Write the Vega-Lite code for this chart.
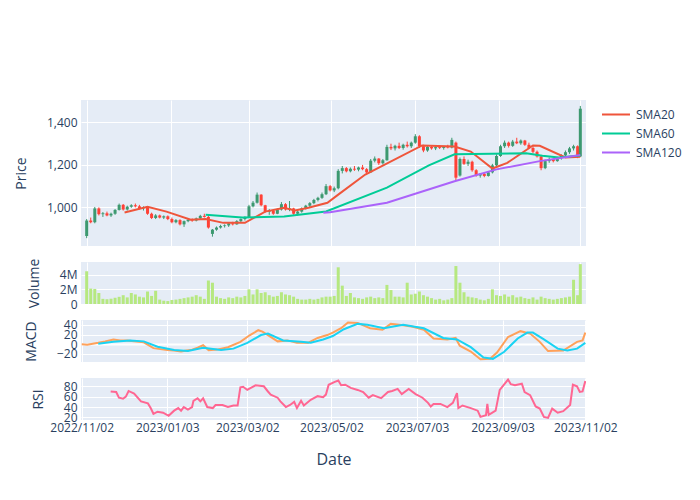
{
  "$schema": "https://vega.github.io/schema/vega-lite/v6.json",
  "background": "white",
  "padding": {"left": 14, "top": 100, "right": 5, "bottom": 5},
  "spacing": 16,
  "bounds": "flush",
  "resolve": {"scale": {"color": "independent"}, "legend": {"color": "independent"}},
  "config": {
    "font": "Open Sans",
    "view": {"fill": "#E5ECF6", "stroke": null},
    "axis": {"domain": false, "ticks": false, "gridColor": "white", "gridWidth": 1, "gridOpacity": 1, "labelColor": "#2a3f5f", "labelFont": "Open Sans", "labelFontSize": 12, "labelOverlap": false, "labelFlush": false, "titleColor": "#2a3f5f", "titleFont": "Open Sans", "titleFontSize": 14, "titleFontWeight": "normal", "labelPadding": 4, "titlePadding": 18}
  },
  "datasets": {
    "candles": [
      {"date":"2022-11-02","open":865,"high":945,"low":855,"close":938,"volume":4460000},
      {"date":"2022-11-05","open":938,"high":952,"low":925,"close":930,"volume":2100000},
      {"date":"2022-11-08","open":930,"high":1002,"low":925,"close":995,"volume":2050000},
      {"date":"2022-11-11","open":995,"high":1000,"low":962,"close":968,"volume":1500000},
      {"date":"2022-11-14","open":968,"high":978,"low":955,"close":972,"volume":700000},
      {"date":"2022-11-17","open":972,"high":980,"low":958,"close":962,"volume":650000},
      {"date":"2022-11-20","open":962,"high":975,"low":955,"close":970,"volume":720000},
      {"date":"2022-11-23","open":970,"high":992,"low":965,"close":988,"volume":850000},
      {"date":"2022-11-26","open":988,"high":1018,"low":985,"close":1012,"volume":980000},
      {"date":"2022-11-29","open":1012,"high":1016,"low":985,"close":990,"volume":1200000},
      {"date":"2022-12-02","open":990,"high":1008,"low":985,"close":1003,"volume":900000},
      {"date":"2022-12-05","open":1003,"high":1015,"low":998,"close":1010,"volume":1500000},
      {"date":"2022-12-08","open":1010,"high":1018,"low":1000,"close":1005,"volume":1300000},
      {"date":"2022-12-11","open":1005,"high":1012,"low":990,"close":996,"volume":1000000},
      {"date":"2022-12-14","open":996,"high":1005,"low":985,"close":1000,"volume":900000},
      {"date":"2022-12-17","open":1000,"high":1003,"low":965,"close":970,"volume":1700000},
      {"date":"2022-12-20","open":970,"high":975,"low":945,"close":950,"volume":1100000},
      {"date":"2022-12-23","open":950,"high":968,"low":945,"close":962,"volume":1800000},
      {"date":"2022-12-26","open":962,"high":966,"low":948,"close":952,"volume":600000},
      {"date":"2022-12-29","open":952,"high":962,"low":945,"close":958,"volume":450000},
      {"date":"2023-01-01","open":958,"high":962,"low":940,"close":945,"volume":400000},
      {"date":"2023-01-04","open":945,"high":952,"low":925,"close":930,"volume":550000},
      {"date":"2023-01-07","open":930,"high":945,"low":925,"close":940,"volume":600000},
      {"date":"2023-01-10","open":940,"high":944,"low":915,"close":920,"volume":700000},
      {"date":"2023-01-13","open":920,"high":938,"low":908,"close":935,"volume":800000},
      {"date":"2023-01-16","open":935,"high":945,"low":930,"close":942,"volume":900000},
      {"date":"2023-01-19","open":942,"high":948,"low":932,"close":938,"volume":1000000},
      {"date":"2023-01-22","open":938,"high":952,"low":934,"close":948,"volume":1200000},
      {"date":"2023-01-25","open":948,"high":965,"low":945,"close":960,"volume":1000000},
      {"date":"2023-01-28","open":960,"high":970,"low":952,"close":955,"volume":700000},
      {"date":"2023-01-31","open":955,"high":960,"low":900,"close":905,"volume":3200000},
      {"date":"2023-02-03","open":875,"high":898,"low":862,"close":895,"volume":2900000},
      {"date":"2023-02-06","open":895,"high":910,"low":890,"close":905,"volume":1000000},
      {"date":"2023-02-09","open":905,"high":918,"low":900,"close":912,"volume":800000},
      {"date":"2023-02-12","open":912,"high":920,"low":905,"close":915,"volume":700000},
      {"date":"2023-02-15","open":915,"high":930,"low":908,"close":925,"volume":900000},
      {"date":"2023-02-18","open":925,"high":932,"low":915,"close":920,"volume":800000},
      {"date":"2023-02-21","open":920,"high":940,"low":918,"close":935,"volume":1000000},
      {"date":"2023-02-24","open":935,"high":948,"low":930,"close":945,"volume":900000},
      {"date":"2023-02-27","open":945,"high":958,"low":938,"close":952,"volume":1100000},
      {"date":"2023-03-02","open":952,"high":1012,"low":950,"close":1005,"volume":2000000},
      {"date":"2023-03-05","open":1005,"high":1030,"low":1000,"close":1022,"volume":1300000},
      {"date":"2023-03-08","open":1022,"high":1070,"low":1018,"close":1060,"volume":2000000},
      {"date":"2023-03-11","open":1060,"high":1062,"low":1005,"close":1010,"volume":1500000},
      {"date":"2023-03-14","open":1010,"high":1012,"low":975,"close":980,"volume":1600000},
      {"date":"2023-03-17","open":980,"high":992,"low":965,"close":985,"volume":1200000},
      {"date":"2023-03-20","open":985,"high":990,"low":965,"close":970,"volume":1000000},
      {"date":"2023-03-23","open":970,"high":995,"low":968,"close":990,"volume":1100000},
      {"date":"2023-03-26","open":990,"high":1025,"low":985,"close":1015,"volume":1600000},
      {"date":"2023-03-29","open":1015,"high":1020,"low":985,"close":990,"volume":1300000},
      {"date":"2023-04-01","open":990,"high":1030,"low":982,"close":995,"volume":1200000},
      {"date":"2023-04-04","open":995,"high":998,"low":965,"close":970,"volume":1000000},
      {"date":"2023-04-07","open":970,"high":985,"low":962,"close":980,"volume":700000},
      {"date":"2023-04-10","open":980,"high":1000,"low":975,"close":995,"volume":600000},
      {"date":"2023-04-13","open":995,"high":1012,"low":990,"close":1008,"volume":600000},
      {"date":"2023-04-16","open":1008,"high":1025,"low":1000,"close":1020,"volume":700000},
      {"date":"2023-04-19","open":1020,"high":1040,"low":1015,"close":1035,"volume":600000},
      {"date":"2023-04-22","open":1035,"high":1050,"low":1028,"close":1045,"volume":700000},
      {"date":"2023-04-25","open":1045,"high":1070,"low":1040,"close":1062,"volume":900000},
      {"date":"2023-04-28","open":1062,"high":1110,"low":1058,"close":1100,"volume":1000000},
      {"date":"2023-05-01","open":1100,"high":1105,"low":1075,"close":1080,"volume":1000000},
      {"date":"2023-05-04","open":1080,"high":1098,"low":1072,"close":1090,"volume":1100000},
      {"date":"2023-05-07","open":1090,"high":1180,"low":1085,"close":1172,"volume":5000000},
      {"date":"2023-05-10","open":1172,"high":1195,"low":1160,"close":1185,"volume":2500000},
      {"date":"2023-05-13","open":1185,"high":1190,"low":1165,"close":1170,"volume":1100000},
      {"date":"2023-05-16","open":1170,"high":1188,"low":1165,"close":1182,"volume":1500000},
      {"date":"2023-05-19","open":1182,"high":1195,"low":1172,"close":1178,"volume":900000},
      {"date":"2023-05-22","open":1178,"high":1192,"low":1170,"close":1188,"volume":800000},
      {"date":"2023-05-25","open":1188,"high":1200,"low":1175,"close":1180,"volume":700000},
      {"date":"2023-05-28","open":1180,"high":1185,"low":1158,"close":1165,"volume":900000},
      {"date":"2023-05-31","open":1165,"high":1228,"low":1162,"close":1220,"volume":1000000},
      {"date":"2023-06-03","open":1220,"high":1240,"low":1212,"close":1230,"volume":800000},
      {"date":"2023-06-06","open":1230,"high":1232,"low":1200,"close":1208,"volume":900000},
      {"date":"2023-06-09","open":1208,"high":1228,"low":1202,"close":1222,"volume":800000},
      {"date":"2023-06-12","open":1222,"high":1295,"low":1220,"close":1285,"volume":2600000},
      {"date":"2023-06-15","open":1285,"high":1300,"low":1270,"close":1278,"volume":1900000},
      {"date":"2023-06-18","open":1278,"high":1295,"low":1268,"close":1290,"volume":1000000},
      {"date":"2023-06-21","open":1290,"high":1305,"low":1275,"close":1280,"volume":1000000},
      {"date":"2023-06-24","open":1280,"high":1300,"low":1272,"close":1295,"volume":900000},
      {"date":"2023-06-27","open":1295,"high":1310,"low":1282,"close":1288,"volume":2900000},
      {"date":"2023-06-30","open":1288,"high":1310,"low":1280,"close":1305,"volume":1300000},
      {"date":"2023-07-03","open":1305,"high":1345,"low":1300,"close":1335,"volume":1400000},
      {"date":"2023-07-06","open":1335,"high":1340,"low":1280,"close":1288,"volume":1700000},
      {"date":"2023-07-09","open":1288,"high":1295,"low":1260,"close":1268,"volume":1200000},
      {"date":"2023-07-12","open":1268,"high":1290,"low":1262,"close":1285,"volume":1000000},
      {"date":"2023-07-15","open":1285,"high":1292,"low":1272,"close":1278,"volume":800000},
      {"date":"2023-07-18","open":1278,"high":1290,"low":1270,"close":1284,"volume":600000},
      {"date":"2023-07-21","open":1284,"high":1292,"low":1275,"close":1280,"volume":700000},
      {"date":"2023-07-24","open":1280,"high":1288,"low":1272,"close":1285,"volume":500000},
      {"date":"2023-07-27","open":1285,"high":1295,"low":1278,"close":1282,"volume":600000},
      {"date":"2023-07-30","open":1282,"high":1328,"low":1278,"close":1318,"volume":800000},
      {"date":"2023-08-02","open":1305,"high":1310,"low":1128,"close":1140,"volume":5170000},
      {"date":"2023-08-05","open":1150,"high":1235,"low":1145,"close":1228,"volume":2900000},
      {"date":"2023-08-08","open":1228,"high":1240,"low":1200,"close":1205,"volume":1600000},
      {"date":"2023-08-11","open":1205,"high":1225,"low":1195,"close":1215,"volume":1000000},
      {"date":"2023-08-14","open":1215,"high":1220,"low":1168,"close":1175,"volume":900000},
      {"date":"2023-08-17","open":1175,"high":1180,"low":1145,"close":1150,"volume":800000},
      {"date":"2023-08-20","open":1150,"high":1162,"low":1140,"close":1158,"volume":600000},
      {"date":"2023-08-23","open":1158,"high":1165,"low":1142,"close":1148,"volume":500000},
      {"date":"2023-08-26","open":1148,"high":1170,"low":1145,"close":1165,"volume":700000},
      {"date":"2023-08-29","open":1165,"high":1205,"low":1160,"close":1198,"volume":2000000},
      {"date":"2023-09-01","open":1198,"high":1250,"low":1195,"close":1242,"volume":1200000},
      {"date":"2023-09-04","open":1242,"high":1295,"low":1238,"close":1288,"volume":1100000},
      {"date":"2023-09-07","open":1288,"high":1315,"low":1280,"close":1305,"volume":1300000},
      {"date":"2023-09-10","open":1305,"high":1310,"low":1282,"close":1290,"volume":1000000},
      {"date":"2023-09-13","open":1290,"high":1318,"low":1285,"close":1310,"volume":1200000},
      {"date":"2023-09-16","open":1310,"high":1328,"low":1298,"close":1302,"volume":900000},
      {"date":"2023-09-19","open":1302,"high":1320,"low":1295,"close":1315,"volume":1000000},
      {"date":"2023-09-22","open":1315,"high":1318,"low":1290,"close":1295,"volume":800000},
      {"date":"2023-09-25","open":1295,"high":1305,"low":1275,"close":1280,"volume":700000},
      {"date":"2023-09-28","open":1280,"high":1288,"low":1255,"close":1262,"volume":900000},
      {"date":"2023-10-01","open":1262,"high":1268,"low":1235,"close":1240,"volume":600000},
      {"date":"2023-10-04","open":1240,"high":1242,"low":1175,"close":1185,"volume":1000000},
      {"date":"2023-10-07","open":1185,"high":1225,"low":1180,"close":1218,"volume":800000},
      {"date":"2023-10-10","open":1218,"high":1235,"low":1210,"close":1228,"volume":700000},
      {"date":"2023-10-13","open":1228,"high":1232,"low":1212,"close":1218,"volume":600000},
      {"date":"2023-10-16","open":1218,"high":1238,"low":1215,"close":1232,"volume":700000},
      {"date":"2023-10-19","open":1232,"high":1250,"low":1225,"close":1245,"volume":800000},
      {"date":"2023-10-22","open":1245,"high":1268,"low":1240,"close":1260,"volume":900000},
      {"date":"2023-10-25","open":1260,"high":1285,"low":1252,"close":1278,"volume":1000000},
      {"date":"2023-10-28","open":1278,"high":1295,"low":1268,"close":1288,"volume":3300000},
      {"date":"2023-10-31","open":1288,"high":1292,"low":1232,"close":1240,"volume":1200000},
      {"date":"2023-11-02","open":1240,"high":1478,"low":1238,"close":1465,"volume":5430000}
    ],
    "sma": [
      {"date":"2022-11-30","series":"SMA20","value":976},
      {"date":"2022-12-17","series":"SMA20","value":1003},
      {"date":"2022-12-31","series":"SMA20","value":980},
      {"date":"2023-01-18","series":"SMA20","value":942},
      {"date":"2023-01-29","series":"SMA20","value":945},
      {"date":"2023-02-11","series":"SMA20","value":927},
      {"date":"2023-02-27","series":"SMA20","value":927},
      {"date":"2023-03-14","series":"SMA20","value":980},
      {"date":"2023-03-28","series":"SMA20","value":998},
      {"date":"2023-04-05","series":"SMA20","value":985},
      {"date":"2023-04-15","series":"SMA20","value":998},
      {"date":"2023-04-29","series":"SMA20","value":1022},
      {"date":"2023-05-07","series":"SMA20","value":1060},
      {"date":"2023-05-27","series":"SMA20","value":1155},
      {"date":"2023-07-08","series":"SMA20","value":1292},
      {"date":"2023-08-01","series":"SMA20","value":1287},
      {"date":"2023-08-13","series":"SMA20","value":1263},
      {"date":"2023-08-29","series":"SMA20","value":1183},
      {"date":"2023-09-09","series":"SMA20","value":1210},
      {"date":"2023-09-28","series":"SMA20","value":1292},
      {"date":"2023-10-03","series":"SMA20","value":1290},
      {"date":"2023-10-22","series":"SMA20","value":1235},
      {"date":"2023-11-02","series":"SMA20","value":1238},
      {"date":"2023-01-29","series":"SMA60","value":965},
      {"date":"2023-02-25","series":"SMA60","value":952},
      {"date":"2023-03-28","series":"SMA60","value":957},
      {"date":"2023-04-28","series":"SMA60","value":981},
      {"date":"2023-06-12","series":"SMA60","value":1093},
      {"date":"2023-07-13","series":"SMA60","value":1198},
      {"date":"2023-08-01","series":"SMA60","value":1250},
      {"date":"2023-09-23","series":"SMA60","value":1255},
      {"date":"2023-10-05","series":"SMA60","value":1243},
      {"date":"2023-10-17","series":"SMA60","value":1235},
      {"date":"2023-11-02","series":"SMA60","value":1245},
      {"date":"2023-04-26","series":"SMA120","value":975},
      {"date":"2023-05-01","series":"SMA120","value":977},
      {"date":"2023-06-12","series":"SMA120","value":1022},
      {"date":"2023-08-01","series":"SMA120","value":1123},
      {"date":"2023-09-01","series":"SMA120","value":1179},
      {"date":"2023-10-03","series":"SMA120","value":1218},
      {"date":"2023-11-02","series":"SMA120","value":1247}
    ],
    "macd": [
      {"date":"2022-11-02","series":"MACD","value":0},{"date":"2022-11-06","series":"MACD","value":-1},{"date":"2022-11-10","series":"MACD","value":1},{"date":"2022-11-14","series":"MACD","value":3},
      {"date":"2022-11-19","series":"MACD","value":6},{"date":"2022-11-25","series":"MACD","value":10},{"date":"2022-11-30","series":"MACD","value":8},{"date":"2022-12-05","series":"MACD","value":8},
      {"date":"2022-12-10","series":"MACD","value":6},{"date":"2022-12-17","series":"MACD","value":4},{"date":"2022-12-24","series":"MACD","value":-8},{"date":"2022-12-29","series":"MACD","value":-10},
      {"date":"2023-01-03","series":"MACD","value":-12},{"date":"2023-01-08","series":"MACD","value":-13},{"date":"2023-01-13","series":"MACD","value":-15},{"date":"2023-01-17","series":"MACD","value":-13},
      {"date":"2023-01-21","series":"MACD","value":-11},{"date":"2023-01-25","series":"MACD","value":-7},{"date":"2023-01-29","series":"MACD","value":-2},{"date":"2023-02-02","series":"MACD","value":-12},
      {"date":"2023-02-08","series":"MACD","value":-11},{"date":"2023-02-16","series":"MACD","value":-6},{"date":"2023-02-25","series":"MACD","value":5},{"date":"2023-03-04","series":"MACD","value":19},
      {"date":"2023-03-10","series":"MACD","value":29},{"date":"2023-03-13","series":"MACD","value":26},{"date":"2023-03-17","series":"MACD","value":19},{"date":"2023-03-24","series":"MACD","value":6},
      {"date":"2023-03-31","series":"MACD","value":8},{"date":"2023-04-07","series":"MACD","value":3},{"date":"2023-04-15","series":"MACD","value":3},{"date":"2023-04-22","series":"MACD","value":13},
      {"date":"2023-04-29","series":"MACD","value":19},{"date":"2023-05-03","series":"MACD","value":24},{"date":"2023-05-09","series":"MACD","value":33},{"date":"2023-05-14","series":"MACD","value":45},
      {"date":"2023-05-21","series":"MACD","value":44},{"date":"2023-05-26","series":"MACD","value":38},{"date":"2023-05-30","series":"MACD","value":33},{"date":"2023-06-08","series":"MACD","value":30},
      {"date":"2023-06-14","series":"MACD","value":42},{"date":"2023-06-23","series":"MACD","value":39},{"date":"2023-06-30","series":"MACD","value":36},{"date":"2023-07-08","series":"MACD","value":30},
      {"date":"2023-07-15","series":"MACD","value":12},{"date":"2023-07-25","series":"MACD","value":10},{"date":"2023-07-31","series":"MACD","value":13},{"date":"2023-08-03","series":"MACD","value":-3},
      {"date":"2023-08-11","series":"MACD","value":-15},{"date":"2023-08-18","series":"MACD","value":-31},{"date":"2023-08-25","series":"MACD","value":-30},{"date":"2023-08-30","series":"MACD","value":-17},
      {"date":"2023-09-07","series":"MACD","value":15},{"date":"2023-09-16","series":"MACD","value":27},{"date":"2023-09-23","series":"MACD","value":22},{"date":"2023-09-30","series":"MACD","value":5},
      {"date":"2023-10-06","series":"MACD","value":-14},{"date":"2023-10-17","series":"MACD","value":-13},{"date":"2023-10-27","series":"MACD","value":5},{"date":"2023-10-31","series":"MACD","value":8},
      {"date":"2023-11-02","series":"MACD","value":24},
      {"date":"2022-11-14","series":"Signal","value":1},{"date":"2022-11-25","series":"Signal","value":5},{"date":"2022-12-07","series":"Signal","value":8},{"date":"2022-12-17","series":"Signal","value":6},
      {"date":"2022-12-27","series":"Signal","value":-5},{"date":"2023-01-08","series":"Signal","value":-12},{"date":"2023-01-18","series":"Signal","value":-14},{"date":"2023-01-29","series":"Signal","value":-7},
      {"date":"2023-02-11","series":"Signal","value":-12},{"date":"2023-02-20","series":"Signal","value":-9},{"date":"2023-03-02","series":"Signal","value":3},{"date":"2023-03-12","series":"Signal","value":19},
      {"date":"2023-03-17","series":"Signal","value":22},{"date":"2023-03-28","series":"Signal","value":8},{"date":"2023-04-10","series":"Signal","value":5},{"date":"2023-04-17","series":"Signal","value":3},
      {"date":"2023-04-26","series":"Signal","value":10},{"date":"2023-05-03","series":"Signal","value":17},{"date":"2023-05-11","series":"Signal","value":31},{"date":"2023-05-21","series":"Signal","value":42},
      {"date":"2023-05-28","series":"Signal","value":40},{"date":"2023-06-09","series":"Signal","value":33},{"date":"2023-06-23","series":"Signal","value":40},{"date":"2023-07-08","series":"Signal","value":33},
      {"date":"2023-07-22","series":"Signal","value":13},{"date":"2023-08-01","series":"Signal","value":10},{"date":"2023-08-11","series":"Signal","value":-6},{"date":"2023-08-20","series":"Signal","value":-27},
      {"date":"2023-08-27","series":"Signal","value":-30},{"date":"2023-09-04","series":"Signal","value":-16},{"date":"2023-09-14","series":"Signal","value":12},{"date":"2023-09-21","series":"Signal","value":24},
      {"date":"2023-09-25","series":"Signal","value":24},{"date":"2023-10-03","series":"Signal","value":10},{"date":"2023-10-13","series":"Signal","value":-9},{"date":"2023-10-20","series":"Signal","value":-13},
      {"date":"2023-10-27","series":"Signal","value":-9},{"date":"2023-11-02","series":"Signal","value":3}
    ],
    "rsi": [
      {"date":"2022-11-23","value":70},{"date":"2022-11-27","value":69},{"date":"2022-11-29","value":58},{"date":"2022-12-02","value":56},
      {"date":"2022-12-04","value":60},{"date":"2022-12-06","value":71},{"date":"2022-12-10","value":66},{"date":"2022-12-15","value":51},
      {"date":"2022-12-20","value":47},{"date":"2022-12-22","value":38},{"date":"2022-12-24","value":27},{"date":"2022-12-27","value":31},
      {"date":"2022-12-31","value":29},{"date":"2023-01-04","value":23},{"date":"2023-01-08","value":33},{"date":"2023-01-11","value":38},
      {"date":"2023-01-13","value":33},{"date":"2023-01-15","value":40},{"date":"2023-01-18","value":35},{"date":"2023-01-21","value":40},
      {"date":"2023-01-22","value":52},{"date":"2023-01-25","value":57},{"date":"2023-01-27","value":51},{"date":"2023-01-29","value":57},
      {"date":"2023-02-01","value":40},{"date":"2023-02-05","value":38},{"date":"2023-02-07","value":44},{"date":"2023-02-12","value":44},
      {"date":"2023-02-16","value":40},{"date":"2023-02-20","value":43},{"date":"2023-02-23","value":43},{"date":"2023-02-25","value":78},
      {"date":"2023-02-27","value":79},{"date":"2023-03-02","value":73},{"date":"2023-03-08","value":82},{"date":"2023-03-14","value":80},
      {"date":"2023-03-17","value":70},{"date":"2023-03-19","value":64},{"date":"2023-03-24","value":58},{"date":"2023-03-26","value":51},
      {"date":"2023-03-30","value":40},{"date":"2023-04-02","value":44},{"date":"2023-04-05","value":50},{"date":"2023-04-07","value":38},
      {"date":"2023-04-10","value":52},{"date":"2023-04-12","value":43},{"date":"2023-04-17","value":54},{"date":"2023-04-22","value":61},
      {"date":"2023-04-26","value":59},{"date":"2023-04-28","value":64},{"date":"2023-04-30","value":83},{"date":"2023-05-04","value":88},
      {"date":"2023-05-07","value":91},{"date":"2023-05-09","value":82},{"date":"2023-05-12","value":83},{"date":"2023-05-16","value":77},
      {"date":"2023-05-21","value":73},{"date":"2023-05-25","value":69},{"date":"2023-05-29","value":58},{"date":"2023-06-01","value":63},
      {"date":"2023-06-07","value":57},{"date":"2023-06-12","value":69},{"date":"2023-06-15","value":71},{"date":"2023-06-19","value":75},
      {"date":"2023-06-22","value":65},{"date":"2023-06-27","value":75},{"date":"2023-07-02","value":65},{"date":"2023-07-07","value":58},
      {"date":"2023-07-11","value":48},{"date":"2023-07-13","value":41},{"date":"2023-07-15","value":46},{"date":"2023-07-20","value":46},
      {"date":"2023-07-25","value":40},{"date":"2023-07-29","value":48},{"date":"2023-08-01","value":67},{"date":"2023-08-02","value":38},
      {"date":"2023-08-05","value":43},{"date":"2023-08-11","value":38},{"date":"2023-08-16","value":33},{"date":"2023-08-18","value":21},
      {"date":"2023-08-22","value":24},{"date":"2023-08-23","value":46},{"date":"2023-08-24","value":25},{"date":"2023-08-29","value":33},
      {"date":"2023-09-01","value":73},{"date":"2023-09-07","value":93},{"date":"2023-09-09","value":84},{"date":"2023-09-12","value":82},
      {"date":"2023-09-17","value":85},{"date":"2023-09-19","value":69},{"date":"2023-09-23","value":63},{"date":"2023-09-27","value":41},
      {"date":"2023-09-30","value":37},{"date":"2023-10-03","value":21},{"date":"2023-10-06","value":19},{"date":"2023-10-09","value":37},
      {"date":"2023-10-13","value":29},{"date":"2023-10-17","value":32},{"date":"2023-10-22","value":44},{"date":"2023-10-24","value":83},
      {"date":"2023-10-27","value":80},{"date":"2023-10-29","value":69},{"date":"2023-10-31","value":70},{"date":"2023-11-02","value":90}
    ]
  },
  "vconcat": [
    {
      "width": 505, "height": 146,
      "layer": [
        {
          "data": {"name": "candles"},
          "mark": {"type": "rule", "strokeWidth": 1, "clip": true},
          "encoding": {
            "x": {"field": "date", "type": "temporal", "scale": {"type": "utc", "domain": [{"year":2022,"month":11,"date":1,"hours":12,"utc":true},{"year":2023,"month":11,"date":2,"hours":12,"utc":true}]}, "axis": {"values": [{"year":2022,"month":11,"date":2,"utc":true},{"year":2023,"month":1,"date":3,"utc":true},{"year":2023,"month":3,"date":2,"utc":true},{"year":2023,"month":5,"date":2,"utc":true},{"year":2023,"month":7,"date":3,"utc":true},{"year":2023,"month":9,"date":3,"utc":true},{"year":2023,"month":11,"date":2,"utc":true}], "labels": false, "title": null}},
            "y": {"field": "low", "type": "quantitative", "scale": {"domain": [818, 1506], "nice": false, "zero": false}, "axis": {"title": "Price", "values": [1000, 1200, 1400], "labelOverlap": false, "labelExpr": "format(datum.value, ',')"}},
            "y2": {"field": "high"},
            "color": {"condition": {"test": "datum.close >= datum.open", "value": "#3D9970"}, "value": "#FF4136"}
          }
        },
        {
          "data": {"name": "candles"},
          "mark": {"type": "bar", "size": 3, "clip": true},
          "encoding": {
            "x": {"field": "date", "type": "temporal"},
            "y": {"field": "open", "type": "quantitative"},
            "y2": {"field": "close"},
            "color": {"condition": {"test": "datum.close >= datum.open", "value": "#3D9970"}, "value": "#FF4136"}
          }
        },
        {
          "data": {"name": "sma"},
          "mark": {"type": "line", "strokeWidth": 2, "clip": true},
          "encoding": {
            "x": {"field": "date", "type": "temporal"},
            "y": {"field": "value", "type": "quantitative"},
            "color": {"field": "series", "type": "nominal", "scale": {"domain": ["SMA20", "SMA60", "SMA120"], "range": ["#EF553B", "#00CC96", "#AB63FA"]},
              "legend": {"title": null, "orient": "right", "offset": 10, "padding": 5, "clipHeight": 19, "rowPadding": 0, "symbolType": "stroke", "symbolSize": 784, "symbolStrokeWidth": 2, "labelFont": "Open Sans", "labelFontSize": 12, "labelColor": "#2a3f5f", "labelOffset": 5}}
          }
        }
      ]
    },
    {
      "width": 505, "height": 42,
      "data": {"name": "candles"},
      "mark": {"type": "bar", "size": 3, "color": "#B6E880", "clip": true},
      "encoding": {
        "x": {"field": "date", "type": "temporal", "scale": {"type": "utc", "domain": [{"year":2022,"month":11,"date":1,"hours":12,"utc":true},{"year":2023,"month":11,"date":2,"hours":12,"utc":true}]}, "axis": {"values": [{"year":2022,"month":11,"date":2,"utc":true},{"year":2023,"month":1,"date":3,"utc":true},{"year":2023,"month":3,"date":2,"utc":true},{"year":2023,"month":5,"date":2,"utc":true},{"year":2023,"month":7,"date":3,"utc":true},{"year":2023,"month":9,"date":3,"utc":true},{"year":2023,"month":11,"date":2,"utc":true}], "labels": false, "title": null}},
        "y": {"field": "volume", "type": "quantitative", "scale": {"domain": [0, 5720000], "nice": false}, "axis": {"title": "Volume", "values": [0, 2000000, 4000000], "labelOverlap": false, "labelExpr": "datum.value === 0 ? '0' : format(datum.value / 1000000, 'd') + 'M'"}}
      }
    },
    {
      "width": 505, "height": 42,
      "data": {"name": "macd"},
      "mark": {"type": "line", "strokeWidth": 2, "clip": true},
      "encoding": {
        "x": {"field": "date", "type": "temporal", "scale": {"type": "utc", "domain": [{"year":2022,"month":11,"date":1,"hours":12,"utc":true},{"year":2023,"month":11,"date":2,"hours":12,"utc":true}]}, "axis": {"values": [{"year":2022,"month":11,"date":2,"utc":true},{"year":2023,"month":1,"date":3,"utc":true},{"year":2023,"month":3,"date":2,"utc":true},{"year":2023,"month":5,"date":2,"utc":true},{"year":2023,"month":7,"date":3,"utc":true},{"year":2023,"month":9,"date":3,"utc":true},{"year":2023,"month":11,"date":2,"utc":true}], "labels": false, "title": null}},
        "y": {"field": "value", "type": "quantitative", "scale": {"domain": [-36.5, 50], "nice": false, "zero": false}, "axis": {"title": "MACD", "values": [-20, 0, 20, 40], "labelOverlap": false, "labelExpr": "format(datum.value, 'd')", "gridWidth": {"condition": {"test": "datum.value === 0", "value": 2}, "value": 1}}},
        "color": {"field": "series", "type": "nominal", "scale": {"domain": ["MACD", "Signal"], "range": ["#FFA15A", "#19D3F3"]}, "legend": null}
      }
    },
    {
      "width": 505, "height": 42,
      "data": {"name": "rsi"},
      "mark": {"type": "line", "strokeWidth": 2, "color": "#FF6692", "clip": true},
      "encoding": {
        "x": {"field": "date", "type": "temporal", "scale": {"type": "utc", "domain": [{"year":2022,"month":11,"date":1,"hours":12,"utc":true},{"year":2023,"month":11,"date":2,"hours":12,"utc":true}]}, "axis": {"values": [{"year":2022,"month":11,"date":2,"utc":true},{"year":2023,"month":1,"date":3,"utc":true},{"year":2023,"month":3,"date":2,"utc":true},{"year":2023,"month":5,"date":2,"utc":true},{"year":2023,"month":7,"date":3,"utc":true},{"year":2023,"month":9,"date":3,"utc":true},{"year":2023,"month":11,"date":2,"utc":true}], "labelExpr": "utcFormat(datum.value, '%Y/%m/%d')", "labelFlush": false, "labelOverlap": false, "labelPadding": 2, "title": "Date", "titleFontSize": 16, "titlePadding": 18}},
        "y": {"field": "value", "type": "quantitative", "scale": {"domain": [15, 96], "nice": false, "zero": false}, "axis": {"title": "RSI", "values": [20, 40, 60, 80], "labelOverlap": false, "labelExpr": "format(datum.value, 'd')"}}
      }
    }
  ]
}
